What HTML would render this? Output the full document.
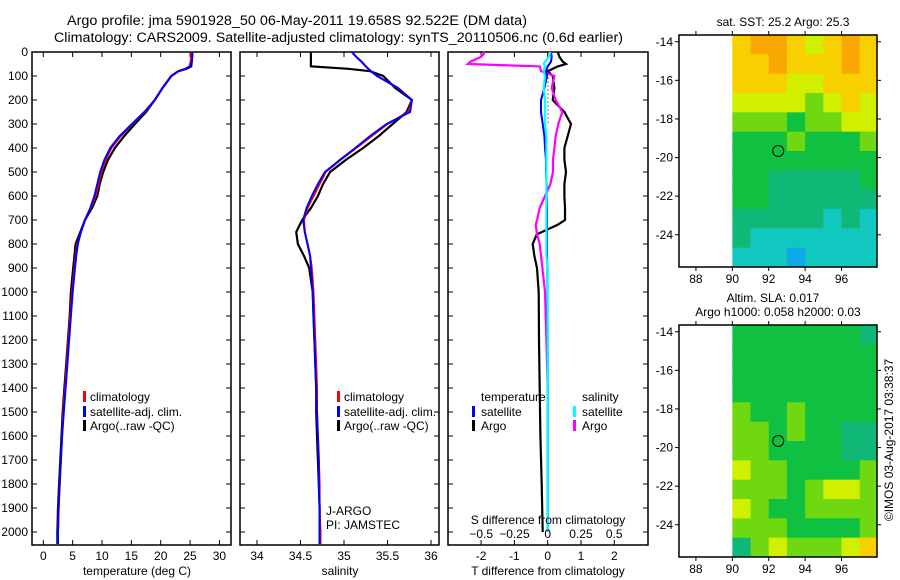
<!DOCTYPE html>
<html><head><meta charset="utf-8"><style>
body{margin:0;background:#fff;}
svg{display:block;font-family:"Liberation Sans",sans-serif;}
text{fill:#000;}
</style></head><body>
<svg id="fig" width="900" height="580" viewBox="0 0 900 580" xmlns="http://www.w3.org/2000/svg">
<text x="67" y="25" font-size="13.5" textLength="460" lengthAdjust="spacingAndGlyphs">Argo profile: jma 5901928_50 06-May-2011 19.658S 92.522E (DM data)</text>
<text x="54" y="42" font-size="13.5" textLength="569" lengthAdjust="spacingAndGlyphs">Climatology: CARS2009. Satellite-adjusted climatology: synTS_20110506.nc (0.6d earlier)</text>
<g id="layer"></g>
<text transform="translate(893,440) rotate(-90)" font-size="12" text-anchor="middle">©IMOS 03-Aug-2017 03:38:37</text>
</svg>
<script>
// ---------- data ----------
const depths = [0,20,40,60,70,80,100,150,200,250,300,350,400,450,500,550,600,650,700,750,800,850,900,1000,1100,1200,1300,1400,1500,1600,1700,1800,1900,2000,2050];
const tempArgo = [25.3,25.3,25.3,25.2,24.4,23.0,21.8,20.3,19.0,17.5,15.6,13.8,12.2,11.0,10.2,9.6,9.2,8.3,7.1,6.3,5.5,5.3,5.1,4.7,4.5,4.2,3.9,3.6,3.3,3.1,2.9,2.7,2.5,2.4,2.4];
const tempClim = [25.2,25.2,25.1,24.9,24.2,23.0,21.8,20.3,19.0,17.3,15.2,13.2,11.6,10.6,9.9,9.4,8.9,8.1,7.1,6.4,5.8,5.5,5.3,4.9,4.6,4.3,4.0,3.7,3.4,3.2,3.0,2.8,2.6,2.5,2.5];
const tempSat = [25.4,25.4,25.3,25.0,24.2,23.0,21.8,20.3,19.0,17.2,15.1,13.0,11.4,10.4,9.7,9.2,8.7,8.0,7.1,6.4,5.9,5.6,5.4,5.0,4.7,4.4,4.1,3.8,3.5,3.2,3.0,2.8,2.6,2.5,2.5];
const salArgo = [34.62,34.62,34.62,34.62,35.05,35.30,35.45,35.59,35.78,35.72,35.56,35.40,35.22,35.02,34.84,34.76,34.70,34.62,34.52,34.45,34.47,34.54,34.60,34.64,34.65,34.66,34.67,34.68,34.68,34.69,34.70,34.71,34.72,34.72,34.72];
const salClim = [35.09,35.14,35.20,35.25,35.28,35.31,35.38,35.62,35.78,35.74,35.50,35.32,35.14,34.96,34.79,34.72,34.65,34.58,34.54,34.55,34.58,34.61,34.63,34.65,34.66,34.67,34.68,34.69,34.69,34.70,34.71,34.72,34.72,34.73,34.73];
const salSat = [35.09,35.14,35.20,35.25,35.28,35.31,35.38,35.62,35.78,35.76,35.49,35.30,35.13,34.95,34.78,34.70,34.63,34.57,34.53,34.55,34.58,34.61,34.62,34.64,34.65,34.66,34.67,34.68,34.69,34.70,34.71,34.71,34.72,34.72,34.72];
const dDepths = [0,20,40,50,60,80,100,150,200,250,300,350,400,450,500,550,600,650,700,720,760,800,850,900,1000,1200,1400,1600,1800,2000];
const tDiffArgo = [0.3,0.35,0.45,0.55,0.3,0.0,0.15,0.2,0.15,0.5,0.7,0.6,0.5,0.5,0.55,0.5,0.5,0.52,0.52,0.3,-0.33,-0.45,-0.4,-0.32,-0.27,-0.26,-0.24,-0.22,-0.18,-0.15];
const tDiffSat = [0.1,0.12,0.1,0.05,0.0,-0.05,-0.02,-0.1,-0.2,-0.2,-0.15,-0.1,-0.08,-0.05,-0.05,-0.03,-0.03,-0.02,-0.02,-0.02,-0.02,-0.02,-0.02,-0.01,-0.01,0,0,0,0,0];
const sDiffArgo = [-0.47,-0.5,-0.58,-0.6,-0.06,-0.05,0.05,0.03,0.06,0.11,0.08,0.06,0.05,0.04,0.04,0.02,-0.02,-0.06,-0.08,-0.09,-0.08,-0.06,-0.05,-0.04,-0.02,-0.01,0,0,0,0];
const sDiffSat = [0.02,0.01,-0.02,-0.03,-0.02,-0.03,-0.02,-0.03,-0.02,-0.02,-0.02,-0.01,-0.01,-0.01,-0.01,-0.01,-0.01,-0.01,-0.01,-0.01,-0.01,-0.01,-0.01,0,0,0,0,0,0,0];
const depthTicks = [0,100,200,300,400,500,600,700,800,900,1000,1100,1200,1300,1400,1500,1600,1700,1800,1900,2000];
const tempTicks = [0,5,10,15,20,25,30];
const salTicks = [34,34.5,35,35.5,36];
const tDiffTicks = [-2,-1,0,1,2];
const sDiffTicks = [-0.5,-0.25,0,0.25,0.5];
const sstGrid = [
[6,7,7,6,5,6,7,6],[6,6,7,6,6,6,7,6],[6,6,6,5,5,6,6,6],[5,5,5,5,4,5,6,5],
[4,4,4,3,4,4,5,5],[3,3,3,4,3,3,3,4],[3,3,3,3,3,3,3,3],[3,3,2,2,2,2,2,3],
[3,3,2,2,2,2,2,2],[2,2,2,2,2,1,2,1],[2,1,1,1,1,1,1,1],[1,1,1,0,1,1,1,1]];
const slaGrid = [
[3,3,3,3,3,3,3,2],[3,3,3,3,3,3,3,3],[3,3,3,3,3,3,3,3],[3,3,3,3,3,3,3,3],
[4,3,3,4,3,3,3,3],[4,4,3,4,3,3,2,2],[4,4,3,3,3,3,2,2],[5,4,4,3,3,3,3,4],
[4,4,4,3,4,5,5,4],[5,4,3,3,4,4,4,4],[4,4,4,3,3,3,3,4],[2,4,5,4,4,4,5,6]];
const lonTicks = [88,90,92,94,96];
const latTicks = [-14,-16,-18,-20,-22,-24];
const argoLon = 92.522, argoLat = -19.658;
const cmap = ['#10a8e8','#10c8c0','#10b878','#10c040','#70d810','#d0f000','#f8d000','#f8a800'];

// ---------- helpers ----------
const NS='http://www.w3.org/2000/svg';
const layer=document.getElementById('layer');
function mk(tag,attrs,parent){const e=document.createElementNS(NS,tag);for(const k in attrs)e.setAttribute(k,attrs[k]);(parent||layer).appendChild(e);return e;}
const Y0=52, YS=0.24;
const yD = d => Y0 + d*YS;
const xT = v => 43.3 + v*5.87;
const xS = v => 257 + (v-34)*87;
const xTd = v => 547.7 + v*33.3;
const xSd = v => 547.7 + v*133;

function frame(x0,x1,name){
  const r=mk('rect',{x:x0,y:52,width:x1-x0,height:493,fill:'none',stroke:'#000','stroke-width':1.5});
  
  
}
function series(xs,vals,dep,fx,color,name,w){
  const pts=vals.map((v,i)=>fx(v).toFixed(1)+','+yD(dep[i]).toFixed(1)).join(' ');
  const p=mk('polyline',{points:pts,fill:'none',stroke:color,'stroke-width':w||2});
  
  
}
function xticks(ticks,fx,labelY,name){
  ticks.forEach(t=>{
    const x=fx(t);
    mk('line',{x1:x,y1:545,x2:x,y2:540,stroke:'#000'});
    mk('line',{x1:x,y1:52,x2:x,y2:57,stroke:'#000'});
    if(labelY){const tx=mk('text',{x:x,y:labelY,'font-size':12,'text-anchor':'middle'});tx.textContent=String(t);
      
      }
  });
}
function yticks(x0,x1,labels){
  depthTicks.forEach(d=>{
    const y=yD(d);
    mk('line',{x1:x0,y1:y,x2:x0+5,y2:y,stroke:'#000'});
    mk('line',{x1:x1,y1:y,x2:x1-5,y2:y,stroke:'#000'});
    if(labels){const t=mk('text',{x:28,y:y+4,'font-size':12,'text-anchor':'end'});t.textContent=d;
      
      }
  });
}
function txt(x,y,s,name,anchor){const t=mk('text',{x:x,y:y,'font-size':12,'text-anchor':anchor||'start'});t.textContent=s;
  
  return t;}
function legMark(x,y,color,name){const r=mk('rect',{x:x,y:y-10,width:3,height:11,fill:color});
  
  }

// ---------- panel 1: temperature ----------
frame(32,231,'temperature-panel-frame');
yticks(32,231,true);
xticks(tempTicks,xT,560,'temperature-tick-label');
series(0,tempArgo,depths,xT,'#000','temp-argo-line',2.2);
series(0,tempClim,depths,xT,'#f00','temp-climatology-line',2);
series(0,tempSat,depths,xT,'#00f','temp-satellite-line',2);
txt(137,575,'temperature (deg C)','temperature-axis-title','middle');
legMark(83,401,'#f00','legend-climatology-marker');txt(90,401,'climatology','legend-climatology');
legMark(83,416,'#00f','legend-satellite-marker');txt(90,416,'satellite-adj. clim.','legend-satellite');
legMark(83,430,'#000','legend-argo-marker');txt(90,430,'Argo(..raw -QC)','legend-argo');

// ---------- panel 2: salinity ----------
frame(240,439,'salinity-panel-frame');
yticks(240,439,false);
xticks(salTicks,xS,560,'salinity-tick-label');
series(0,salArgo,depths,xS,'#000','sal-argo-line',2.2);
series(0,salClim,depths,xS,'#f00','sal-climatology-line',2);
series(0,salSat,depths,xS,'#00f','sal-satellite-line',2);
txt(340,575,'salinity','salinity-axis-title','middle');
legMark(337,401,'#f00','legend2-climatology-marker');txt(344,401,'climatology','legend2-climatology');
legMark(337,416,'#00f','legend2-satellite-marker');txt(344,416,'satellite-adj. clim.','legend2-satellite');
legMark(337,430,'#000','legend2-argo-marker');txt(344,430,'Argo(..raw -QC)','legend2-argo');
txt(326,515,'J-ARGO','institution-label');
txt(326,529,'PI: JAMSTEC','pi-label');

// ---------- panel 3: differences ----------
frame(448,648,'difference-panel-frame');
yticks(448,648,false);
xticks(tDiffTicks,xTd,560,'tdiff-tick-label');
mk('line',{x1:548,y1:yD(90),x2:548,y2:yD(300),stroke:'#000','stroke-dasharray':'1,3'});
series(0,tDiffArgo,dDepths,xTd,'#000','tdiff-argo-line',2.2);
series(0,sDiffArgo,dDepths,xSd,'#f0f','sdiff-argo-line',2.2);
series(0,tDiffSat,dDepths,xTd,'#00f','tdiff-satellite-line',2);
series(0,sDiffSat,dDepths,xSd,'#0ff','sdiff-satellite-line',2.2);
sDiffTicks.forEach(t=>{const tx=txt(xSd(t),538,String(t).replace('-','\u2212'),'sdiff-tick-label','middle');});
txt(548,524,'S difference from climatology','sdiff-axis-title','middle');
txt(548,575,'T difference from climatology','tdiff-axis-title','middle');
txt(481,401,'temperature','legend3-temperature-heading');
legMark(472,416,'#00f','legend3-tsat-marker');txt(481,416,'satellite','legend3-tsat');
legMark(472,430,'#000','legend3-targo-marker');txt(481,430,'Argo','legend3-targo');
txt(582,401,'salinity','legend3-salinity-heading');
legMark(573,416,'#0ff','legend3-ssat-marker');txt(582,416,'satellite','legend3-ssat');
legMark(573,430,'#f0f','legend3-sargo-marker');txt(582,430,'Argo','legend3-sargo');

// ---------- maps ----------
const MX0=679, MX1=877, LON0=87.07, LONS=18.2, LAT0=-13.65, LATS=19.3;
function drawMap(top,grid,name,cname){
  const xL=v=>MX0+(v-LON0)*LONS, yL=v=>top+(LAT0-v)*LATS;
  const g=mk('g',{});
  const cid='clip'+name;
  const cp=mk('clipPath',{id:cid},g);mk('rect',{x:MX0,y:top,width:MX1-MX0,height:232},cp);
  const cg=mk('g',{'clip-path':'url(#'+cid+')'},g);
  grid.forEach((row,r)=>row.forEach((v,c)=>{
    const x=xL(90+c), y=top+r*(232/12);
    const rc=mk('rect',{x:x,y:y,width:LONS+0.6,height:232/12+0.6,fill:cmap[v]},cg);
    
    
  }));
  const fr=mk('rect',{x:MX0,y:top,width:MX1-MX0,height:232,fill:'none',stroke:'#000','stroke-width':1.5},g);
  
  
  lonTicks.forEach(t=>{const x=xL(t);mk('line',{x1:x,y1:top,x2:x,y2:top-4,stroke:'#000'},g);mk('line',{x1:x,y1:top+232,x2:x,y2:top+236,stroke:'#000'},g);
    txt(x,top+248,String(t),name+'-lon-label','middle');});
  latTicks.forEach(t=>{const y=yL(t);mk('line',{x1:MX0,y1:y,x2:MX0-4,y2:y,stroke:'#000'},g);mk('line',{x1:MX1,y1:y,x2:MX1+4,y2:y,stroke:'#000'},g);
    txt(673,y+4,String(t),name+'-lat-label','end');});
  const c=mk('circle',{cx:xL(argoLon),cy:yL(argoLat),r:5.5,fill:'none',stroke:'#000','stroke-width':1},g);
  
  
}
drawMap(35,sstGrid,'sst-map','sst-argo-location');
drawMap(325,slaGrid,'sla-map','sla-argo-location');
txt(783,26,'sat. SST: 25.2  Argo: 25.3','sst-map-title','middle');
txt(773,302,'Altim. SLA: 0.017','sla-map-title-1','middle');
txt(778,316,'Argo h1000: 0.058 h2000: 0.03','sla-map-title-2','middle');
</script>
</body></html>
